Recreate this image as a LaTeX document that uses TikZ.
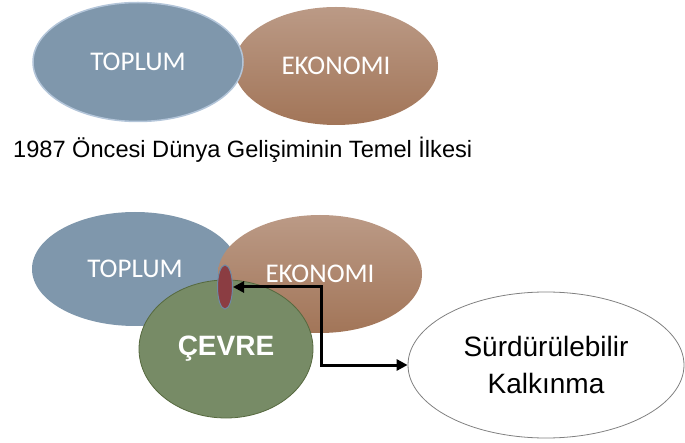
\documentclass[tikz,border=0pt]{standalone}
\usepackage{fontspec}
\setmainfont{Liberation Sans}
\newfontfamily\calibri{Carlito}
\usetikzlibrary{shapes.geometric,arrows.meta}
\definecolor{toplummau}{HTML}{7F97AC}
\definecolor{vientoplum}{HTML}{B3C5D9}
\definecolor{ekotren}{HTML}{BB9A86}
\definecolor{ekoduoi}{HTML}{A27558}
\definecolor{cevremau}{HTML}{778B66}
\definecolor{viencevre}{HTML}{56693F}
\definecolor{nokta}{HTML}{8B3D42}
\definecolor{viennokta}{HTML}{6F8AA5}
\begin{document}
\begin{tikzpicture}[x=1pt,y=-1pt,
	elip/.style={ellipse,inner sep=0pt,text=white,font=\calibri\fontsize{27}{32}\selectfont},
	eko/.style={elip,shade,top color=ekotren,bottom color=ekoduoi,minimum width=204pt,minimum height=118pt},
	ok/.style={{Triangle[length=11pt,width=11pt]}-{Triangle[length=11pt,width=11pt]},line width=3pt}]
			\useasboundingbox (0,0) rectangle (685,443);
			% Vẽ hình trên
			\node[eko] (eko1) at (336,66) {EKONOMI};
			\node[elip,fill=toplummau,draw=vientoplum,line width=1.5pt,minimum width=210pt,minimum height=119pt] (toplum1) at (138,62) {TOPLUM};
			\node[font=\fontsize{23.6}{28}\selectfont,anchor=base west,inner sep=0pt] (baslik) at (13,158) {1987 Öncesi Dünya Gelişiminin Temel İlkesi};
			% Vẽ hình dưới
			\node[elip,fill=toplummau,minimum width=206pt,minimum height=114pt] (toplum2) at (135,269) {TOPLUM};
			\node[eko] (eko2) at (320,274) {EKONOMI};
			\node[elip,fill=cevremau,draw=viencevre,line width=0.8pt,minimum width=174pt,minimum height=138pt,font=\bfseries\fontsize{28}{33}\selectfont] (cevre) at (226,349) {ÇEVRE};
			\node[ellipse,inner sep=0pt,fill=nokta,draw=viennokta,line width=1pt,minimum width=15pt,minimum height=44pt] (kesisim) at (225,287) {};
			\node[ellipse,inner sep=0pt,draw=gray,line width=0.8pt,minimum width=276pt,minimum height=146pt,align=center,font=\fontsize{28}{37}\selectfont] (surd) at (546,365) {Sürdürülebilir\\Kalkınma};
			% Vẽ mũi tên
			\coordinate (kose) at (321,287);
			\draw[ok] (kesisim.east) -- (kose) |- (surd.west);
		\end{tikzpicture}
\end{document}
